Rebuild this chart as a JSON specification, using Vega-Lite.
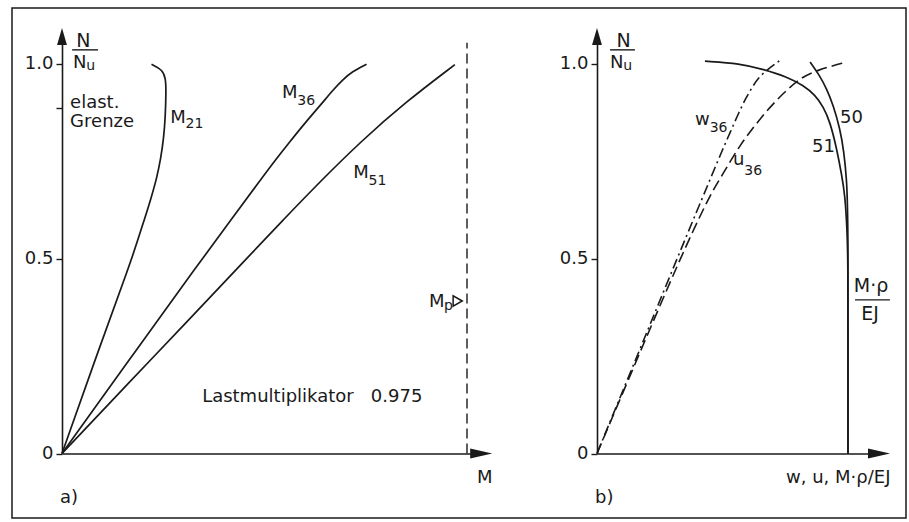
{
  "$schema": "https://vega.github.io/schema/vega-lite/v6.json",
  "width": 894,
  "height": 510,
  "autosize": {"type": "none"},
  "padding": {"left": 12, "top": 8, "right": 3, "bottom": 4},
  "background": "white",
  "config": {
    "view": {"stroke": "#1a1a1a", "strokeWidth": 1.5},
    "font": "DejaVu Sans",
    "axis": {
      "grid": false,
      "domainColor": "#1a1a1a",
      "domainWidth": 1.6,
      "tickColor": "#1a1a1a",
      "tickWidth": 1.4,
      "tickSize": 6,
      "labelFont": "DejaVu Sans",
      "labelFontSize": 18,
      "labelColor": "#1a1a1a",
      "labelPadding": 3,
      "titleFont": "DejaVu Sans",
      "titleFontSize": 18,
      "titleFontWeight": "normal",
      "titleColor": "#1a1a1a"
    }
  },
  "resolve": {
    "scale": {"x": "independent"},
    "axis": {"x": "independent", "y": "independent"}
  },
  "layer": [
    {
      "encoding": {
        "x": {
          "field": "x", "type": "quantitative",
          "scale": {"domain": [0, 1.03], "range": [50, 467.15], "nice": false, "zero": false},
          "axis": {"orient": "bottom", "offset": -64.5, "ticks": false, "labels": false,
                   "title": "M", "titleX": 480, "titleY": 28.5, "titleAlign": "right", "titleBaseline": "alphabetic"}
        },
        "y": {
          "field": "y", "type": "quantitative",
          "scale": {"domain": [0, 1.05], "range": [445.5, 36], "nice": false, "zero": false},
          "axis": {"orient": "left", "offset": -50, "values": [0, 0.5, 0.885, 1], "title": null,
                   "labelExpr": "datum.value == 0 ? '0' : (datum.value == 0.885 ? '' : format(datum.value, '.1f'))",
                   "labelBaseline": "middle"}
        }
      },
      "layer": [
        {
          "data": {"values": [
            {"s": "M21", "i": 0, "x": 0, "y": 0},
            {"s": "M21", "i": 1, "x": 0.089, "y": 0.262},
            {"s": "M21", "i": 2, "x": 0.17, "y": 0.492},
            {"s": "M21", "i": 3, "x": 0.183, "y": 0.535},
            {"s": "M21", "i": 4, "x": 0.202, "y": 0.595},
            {"s": "M21", "i": 5, "x": 0.22, "y": 0.655},
            {"s": "M21", "i": 6, "x": 0.234, "y": 0.706},
            {"s": "M21", "i": 7, "x": 0.244, "y": 0.757},
            {"s": "M21", "i": 8, "x": 0.251, "y": 0.809},
            {"s": "M21", "i": 9, "x": 0.255, "y": 0.86},
            {"s": "M21", "i": 10, "x": 0.257, "y": 0.928},
            {"s": "M21", "i": 11, "x": 0.256, "y": 0.962},
            {"s": "M21", "i": 12, "x": 0.248, "y": 0.984},
            {"s": "M21", "i": 13, "x": 0.221, "y": 0.998},
            {"s": "M36", "i": 0, "x": 0, "y": 0},
            {"s": "M36", "i": 1, "x": 0.17, "y": 0.246},
            {"s": "M36", "i": 2, "x": 0.341, "y": 0.492},
            {"s": "M36", "i": 3, "x": 0.418, "y": 0.6},
            {"s": "M36", "i": 4, "x": 0.489, "y": 0.7},
            {"s": "M36", "i": 5, "x": 0.525, "y": 0.75},
            {"s": "M36", "i": 6, "x": 0.563, "y": 0.8},
            {"s": "M36", "i": 7, "x": 0.602, "y": 0.85},
            {"s": "M36", "i": 8, "x": 0.642, "y": 0.898},
            {"s": "M36", "i": 9, "x": 0.67, "y": 0.933},
            {"s": "M36", "i": 10, "x": 0.693, "y": 0.958},
            {"s": "M36", "i": 11, "x": 0.716, "y": 0.979},
            {"s": "M36", "i": 12, "x": 0.752, "y": 0.998},
            {"s": "M51", "i": 0, "x": 0, "y": 0},
            {"s": "M51", "i": 1, "x": 0.152, "y": 0.167},
            {"s": "M51", "i": 2, "x": 0.304, "y": 0.333},
            {"s": "M51", "i": 3, "x": 0.456, "y": 0.5},
            {"s": "M51", "i": 4, "x": 0.547, "y": 0.6},
            {"s": "M51", "i": 5, "x": 0.64, "y": 0.7},
            {"s": "M51", "i": 6, "x": 0.738, "y": 0.8},
            {"s": "M51", "i": 7, "x": 0.847, "y": 0.9},
            {"s": "M51", "i": 8, "x": 0.97, "y": 0.997}
          ]},
          "mark": {"type": "line", "stroke": "#1a1a1a", "strokeWidth": 1.7, "interpolate": "basis"},
          "encoding": {"detail": {"field": "s"}, "order": {"field": "i", "type": "quantitative"}}
        },
        {
          "data": {"values": [{"x": 1, "y": 0, "y2": 1.053}]},
          "mark": {"type": "rule", "stroke": "#1a1a1a", "strokeWidth": 1.4, "strokeDash": [10, 5]},
          "encoding": {"y2": {"field": "y2"}}
        },
        {
          "data": {"values": [{"x": 0.025, "x2": 0.089, "y": 1.035}]},
          "mark": {"type": "rule", "stroke": "#1a1a1a", "strokeWidth": 1.4},
          "encoding": {"x2": {"field": "x2"}}
        },
        {
          "data": {"values": [{"x": 0.977, "y": 0.391}]},
          "mark": {"type": "point", "shape": "triangle-right", "filled": false, "stroke": "#1a1a1a", "strokeWidth": 1.5, "size": 110, "opacity": 1}
        },
        {
          "data": {"values": [{"x": 0, "y": 1.069, "dir": "up"}, {"x": 1.035, "y": 0, "dir": "right"}]},
          "mark": {"type": "point", "filled": true, "fill": "#1a1a1a", "strokeWidth": 0, "size": 484, "opacity": 1},
          "encoding": {"shape": {"field": "dir", "type": "nominal", "legend": null,
            "scale": {"domain": ["up", "right"], "range": ["M-0.45,0.77L0,-0.77L0.45,0.77Z", "M-1,-0.45L1,0L-1,0.45Z"]}}}
        },
        {
          "data": {"values": [
            {"t": "M", "x": 0.267, "y": 0.847},
            {"t": "M", "x": 0.543, "y": 0.912},
            {"t": "M", "x": 0.719, "y": 0.706},
            {"t": "M", "x": 0.906, "y": 0.376},
            {"t": "elast.", "x": 0.02, "y": 0.886},
            {"t": "Grenze", "x": 0.02, "y": 0.837},
            {"t": "Lastmultiplikator\u00a0\u00a0\u00a00.975", "x": 0.346, "y": 0.132},
            {"t": "a)", "x": -0.005, "y": -0.127},
            {"t": "N", "x": 0.027, "y": 0.988}
          ]},
          "mark": {"type": "text", "align": "left", "baseline": "alphabetic", "fontSize": 18, "font": "DejaVu Sans", "fill": "#1a1a1a"},
          "encoding": {"text": {"field": "t"}}
        },
        {
          "data": {"values": [{"t": "N", "x": 0.053, "y": 1.042}]},
          "mark": {"type": "text", "align": "center", "baseline": "alphabetic", "fontSize": 19, "font": "DejaVu Sans", "fill": "#1a1a1a"},
          "encoding": {"text": {"field": "t"}}
        },
        {
          "data": {"values": [
            {"t": "21", "x": 0.305, "y": 0.835},
            {"t": "36", "x": 0.581, "y": 0.894},
            {"t": "51", "x": 0.757, "y": 0.688},
            {"t": "p", "x": 0.943, "y": 0.368},
            {"t": "u", "x": 0.06, "y": 0.983}
          ]},
          "mark": {"type": "text", "align": "left", "baseline": "alphabetic", "fontSize": 14, "font": "DejaVu Sans", "fill": "#1a1a1a"},
          "encoding": {"text": {"field": "t"}}
        }
      ]
    },
    {
      "encoding": {
        "x": {
          "field": "x", "type": "quantitative",
          "scale": {"domain": [0, 1.12], "range": [585, 866.12], "nice": false, "zero": false},
          "axis": {"orient": "bottom", "offset": -64.5, "ticks": false, "labels": false,
                   "title": "w, u, M·ρ/EJ", "titleX": 878, "titleY": 29, "titleAlign": "right", "titleBaseline": "alphabetic"}
        },
        "y": {
          "field": "y", "type": "quantitative",
          "scale": {"domain": [0, 1.05], "range": [445.5, 36], "nice": false, "zero": false},
          "axis": {"orient": "left", "offset": -585, "values": [0, 0.5, 1], "title": null,
                   "labelExpr": "datum.value == 0 ? '0' : format(datum.value, '.1f')",
                   "labelBaseline": "middle"}
        }
      },
      "layer": [
        {
          "data": {"values": [
            {"s": "51", "i": 0, "x": 0.43, "y": 1.006},
            {"s": "51", "i": 1, "x": 0.57, "y": 1.0},
            {"s": "51", "i": 2, "x": 0.663, "y": 0.985},
            {"s": "51", "i": 3, "x": 0.756, "y": 0.966},
            {"s": "51", "i": 4, "x": 0.822, "y": 0.944},
            {"s": "51", "i": 5, "x": 0.869, "y": 0.919},
            {"s": "51", "i": 6, "x": 0.902, "y": 0.889},
            {"s": "51", "i": 7, "x": 0.928, "y": 0.851},
            {"s": "51", "i": 8, "x": 0.955, "y": 0.782},
            {"s": "51", "i": 9, "x": 0.975, "y": 0.714},
            {"s": "51", "i": 10, "x": 0.988, "y": 0.662},
            {"s": "51", "i": 11, "x": 0.996, "y": 0.577},
            {"s": "51", "i": 12, "x": 1.0, "y": 0.5},
            {"s": "51", "i": 13, "x": 1.0, "y": 0.25},
            {"s": "51", "i": 14, "x": 1.0, "y": 0},
            {"s": "50", "i": 0, "x": 0.849, "y": 1.004},
            {"s": "50", "i": 1, "x": 0.882, "y": 0.974},
            {"s": "50", "i": 2, "x": 0.915, "y": 0.936},
            {"s": "50", "i": 3, "x": 0.941, "y": 0.893},
            {"s": "50", "i": 4, "x": 0.968, "y": 0.833},
            {"s": "50", "i": 5, "x": 0.984, "y": 0.774},
            {"s": "50", "i": 6, "x": 0.995, "y": 0.697},
            {"s": "50", "i": 7, "x": 0.997, "y": 0.654},
            {"s": "50", "i": 8, "x": 1.0, "y": 0.577},
            {"s": "50", "i": 9, "x": 1.0, "y": 0.3},
            {"s": "50", "i": 10, "x": 1.0, "y": 0}
          ]},
          "mark": {"type": "line", "stroke": "#1a1a1a", "strokeWidth": 1.7, "interpolate": "basis"},
          "encoding": {"detail": {"field": "s"}, "order": {"field": "i", "type": "quantitative"}}
        },
        {
          "data": {"values": [
            {"s": "u36", "i": 0, "x": 0, "y": 0},
            {"s": "u36", "i": 1, "x": 0.165, "y": 0.25},
            {"s": "u36", "i": 2, "x": 0.331, "y": 0.5},
            {"s": "u36", "i": 3, "x": 0.443, "y": 0.654},
            {"s": "u36", "i": 4, "x": 0.483, "y": 0.697},
            {"s": "u36", "i": 5, "x": 0.53, "y": 0.748},
            {"s": "u36", "i": 6, "x": 0.57, "y": 0.79},
            {"s": "u36", "i": 7, "x": 0.61, "y": 0.825},
            {"s": "u36", "i": 8, "x": 0.656, "y": 0.863},
            {"s": "u36", "i": 9, "x": 0.702, "y": 0.897},
            {"s": "u36", "i": 10, "x": 0.756, "y": 0.932},
            {"s": "u36", "i": 11, "x": 0.809, "y": 0.962},
            {"s": "u36", "i": 12, "x": 0.875, "y": 0.983},
            {"s": "u36", "i": 13, "x": 0.996, "y": 1.004}
          ]},
          "mark": {"type": "line", "stroke": "#1a1a1a", "strokeWidth": 1.6, "strokeDash": [11, 5], "interpolate": "basis"},
          "encoding": {"order": {"field": "i", "type": "quantitative"}}
        },
        {
          "data": {"values": [
            {"s": "w36", "i": 0, "x": 0, "y": 0},
            {"s": "w36", "i": 1, "x": 0.16, "y": 0.25},
            {"s": "w36", "i": 2, "x": 0.319, "y": 0.5},
            {"s": "w36", "i": 3, "x": 0.43, "y": 0.671},
            {"s": "w36", "i": 4, "x": 0.463, "y": 0.722},
            {"s": "w36", "i": 5, "x": 0.497, "y": 0.774},
            {"s": "w36", "i": 6, "x": 0.52, "y": 0.808},
            {"s": "w36", "i": 7, "x": 0.542, "y": 0.84},
            {"s": "w36", "i": 8, "x": 0.565, "y": 0.874},
            {"s": "w36", "i": 9, "x": 0.592, "y": 0.91},
            {"s": "w36", "i": 10, "x": 0.622, "y": 0.944},
            {"s": "w36", "i": 11, "x": 0.656, "y": 0.974},
            {"s": "w36", "i": 12, "x": 0.729, "y": 1.008}
          ]},
          "mark": {"type": "line", "stroke": "#1a1a1a", "strokeWidth": 1.6, "strokeDash": [10, 4, 2, 4], "interpolate": "basis"},
          "encoding": {"order": {"field": "i", "type": "quantitative"}}
        },
        {
          "data": {"values": [{"x": 0.052, "x2": 0.151, "y": 1.035}, {"x": 1.028, "x2": 1.167, "y": 0.394}]},
          "mark": {"type": "rule", "stroke": "#1a1a1a", "strokeWidth": 1.4},
          "encoding": {"x2": {"field": "x2"}}
        },
        {
          "data": {"values": [{"x": 0, "y": 1.069, "dir": "up"}, {"x": 1.1235, "y": 0, "dir": "right"}]},
          "mark": {"type": "point", "filled": true, "fill": "#1a1a1a", "strokeWidth": 0, "size": 484, "opacity": 1},
          "encoding": {"shape": {"field": "dir", "type": "nominal", "legend": null,
            "scale": {"domain": ["up", "right"], "range": ["M-0.45,0.77L0,-0.77L0.45,0.77Z", "M-1,-0.45L1,0L-1,0.45Z"]}}}
        },
        {
          "data": {"values": [
            {"t": "w", "x": 0.39, "y": 0.842},
            {"t": "u", "x": 0.542, "y": 0.74},
            {"t": "51", "x": 0.857, "y": 0.773},
            {"t": "50", "x": 0.968, "y": 0.847},
            {"t": "b)", "x": -0.008, "y": -0.127},
            {"t": "N", "x": 0.052, "y": 0.988}
          ]},
          "mark": {"type": "text", "align": "left", "baseline": "alphabetic", "fontSize": 18, "font": "DejaVu Sans", "fill": "#1a1a1a"},
          "encoding": {"text": {"field": "t"}}
        },
        {
          "data": {"values": [
            {"t": "N", "x": 0.106, "y": 1.042},
            {"t": "M·ρ", "x": 1.092, "y": 0.414},
            {"t": "EJ", "x": 1.088, "y": 0.342}
          ]},
          "mark": {"type": "text", "align": "center", "baseline": "alphabetic", "fontSize": 19, "font": "DejaVu Sans", "fill": "#1a1a1a"},
          "encoding": {"text": {"field": "t"}}
        },
        {
          "data": {"values": [
            {"t": "36", "x": 0.449, "y": 0.824},
            {"t": "36", "x": 0.587, "y": 0.714},
            {"t": "u", "x": 0.105, "y": 0.983}
          ]},
          "mark": {"type": "text", "align": "left", "baseline": "alphabetic", "fontSize": 14, "font": "DejaVu Sans", "fill": "#1a1a1a"},
          "encoding": {"text": {"field": "t"}}
        }
      ]
    }
  ]
}
